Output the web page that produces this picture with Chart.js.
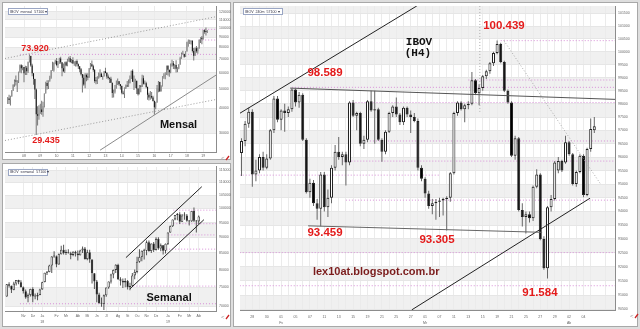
<!DOCTYPE html>
<html>
<head>
<meta charset="utf-8">
<script src="https://cdn.jsdelivr.net/npm/chart.js@4.4.1/dist/chart.umd.min.js"></script>
<style>
  body { margin:0; width:640px; height:329px; background:#dedede; position:relative; overflow:hidden; }
  .frame { position:absolute; background:#fff; border:1px solid #a8a8a8; box-sizing:border-box; }
  canvas { position:absolute; }
</style>
</head>
<body>
<div class="frame" style="left:2px;top:2px;width:229px;height:158px"></div>
<div class="frame" style="left:2px;top:163px;width:229px;height:164px"></div>
<div class="frame" style="left:233px;top:2px;width:405px;height:325px"></div>
<canvas id="mensal" width="231" height="161" style="left:0;top:0"></canvas>
<canvas id="semanal" width="231" height="168" style="left:0;top:161px"></canvas>
<canvas id="h4" width="407" height="329" style="left:233px;top:0"></canvas>
<script>
// IBOV mensal, milhares de pontos, jan/2007 .. abr/2019
const mensalYears = ['08','09','10','11','12','13','14','15','16','17','18','19'];
const mensalOpen = [
  44.5,44.6,43.9,45.8,49.0,52.3,54.4,54.2,54.6,60.5,65.3,63.0,
  63.9,59.5,63.5,61.0,67.9,72.6,65.0,59.5,55.7,49.5,37.3,36.6,
  37.6,39.3,38.2,40.9,47.3,53.2,51.5,54.8,56.5,61.5,61.5,67.0,
  68.6,65.4,66.5,70.4,67.5,63.0,60.9,67.5,65.1,69.4,70.7,67.7,
  69.3,66.6,67.4,68.6,66.1,64.6,62.4,58.8,56.5,52.3,58.3,56.9,
  56.8,63.1,66.1,64.5,61.8,54.5,54.4,56.1,57.1,59.2,57.1,57.5,
  61.0,59.8,57.4,56.4,55.9,53.5,47.5,48.2,50.0,52.3,54.3,52.5,
  51.5,47.6,47.1,50.4,51.6,51.2,53.2,55.8,61.3,54.1,54.6,54.7,
  50.0,46.9,51.6,51.2,56.2,52.8,53.1,50.9,46.6,45.1,45.9,45.1,
  43.4,40.4,42.8,50.1,53.9,48.5,51.5,57.3,57.9,58.4,64.9,61.9,
  60.2,64.7,66.7,65.0,65.4,62.7,62.9,65.9,70.8,74.3,74.3,72.0,
  76.4,84.9,85.4,85.4,86.1,76.8,72.8,79.2,76.7,79.3,87.4,89.5,
  87.9,97.4,95.6,95.4];
const mensalHigh = [
  45.4,46.6,46.0,49.0,52.3,55.4,58.1,55.0,60.5,65.8,66.1,65.2,
  64.0,64.8,64.7,68.0,73.9,72.8,66.4,59.6,56.0,50.0,40.8,41.3,
  42.0,43.5,43.0,47.3,54.0,54.9,54.8,57.8,61.8,68.0,67.5,69.4,
  71.0,68.5,71.1,71.9,67.6,66.6,68.0,68.4,70.3,72.0,72.5,70.0,
  71.6,68.4,68.7,69.6,66.6,64.6,63.2,59.1,58.7,59.6,59.4,59.5,
  63.3,66.9,68.9,65.6,62.6,57.0,57.5,60.1,62.3,60.0,57.9,61.0,
  63.5,60.4,58.7,56.6,57.2,53.5,49.4,52.0,54.8,56.1,54.5,52.7,
  51.7,48.7,50.6,52.4,54.5,55.5,58.1,61.3,62.3,58.0,56.0,54.7,
  50.1,52.0,51.8,58.6,58.0,54.8,54.0,51.2,47.6,48.6,48.1,46.0,
  43.6,43.0,52.0,54.5,54.0,51.9,57.6,59.5,60.3,64.9,65.3,62.0,
  66.6,69.5,68.6,66.0,69.1,63.7,66.1,71.9,75.6,77.1,74.4,76.5,
  85.5,87.6,87.3,86.9,87.0,79.4,80.0,81.4,79.9,87.7,90.0,91.2,
  97.7,98.6,100.4,97.5];
const mensalLow = [
  41.9,41.9,41.2,45.5,48.6,51.0,51.8,48.0,53.3,59.9,59.5,61.6,
  53.7,58.3,58.3,59.7,67.4,64.1,57.5,52.2,44.4,29.4,32.8,35.0,
  37.5,37.1,36.2,40.3,47.2,49.4,49.7,54.0,56.0,61.2,60.5,66.0,
  64.6,63.2,66.3,66.3,57.6,60.3,59.8,64.6,64.6,68.0,67.1,66.8,
  66.4,64.8,64.3,64.4,62.5,60.3,58.1,47.8,51.6,50.1,54.3,55.0,
  56.6,62.3,63.9,60.5,53.5,52.5,52.7,56.1,56.8,57.1,55.3,57.4,
  59.5,56.0,55.5,53.3,53.3,45.0,45.1,47.3,50.0,52.0,51.6,49.5,
  46.9,46.7,44.9,49.8,51.0,51.1,53.0,55.8,54.1,49.2,50.3,47.0,
  46.2,46.9,47.9,50.9,52.3,52.4,50.2,44.0,43.6,44.0,44.5,43.1,
  37.0,39.5,42.5,47.9,48.1,48.4,51.2,56.0,55.6,58.3,58.0,57.2,
  59.5,64.2,62.6,62.3,60.0,60.3,62.3,65.6,70.2,73.8,71.2,71.7,
  76.4,80.7,83.1,82.7,75.4,69.0,72.8,75.2,74.4,78.8,84.1,83.0,
  87.5,93.5,91.6,94.5];
const mensalClose = [
  44.6,43.9,45.8,49.0,52.3,54.4,54.2,54.6,60.5,65.3,63.0,63.9,
  59.5,63.5,61.0,67.9,72.6,65.0,59.5,55.7,49.5,37.3,36.6,37.6,
  39.3,38.2,40.9,47.3,53.2,51.5,54.8,56.5,61.5,61.5,67.0,68.6,
  65.4,66.5,70.4,67.5,63.0,60.9,67.5,65.1,69.4,70.7,67.7,69.3,
  66.6,67.4,68.6,66.1,64.6,62.4,58.8,56.5,52.3,58.3,56.9,56.8,
  63.1,66.1,64.5,61.8,54.5,54.4,56.1,57.1,59.2,57.1,57.5,61.0,
  59.8,57.4,56.4,55.9,53.5,47.5,48.2,50.0,52.3,54.3,52.5,51.5,
  47.6,47.1,50.4,51.6,51.2,53.2,55.8,61.3,54.1,54.6,54.7,50.0,
  46.9,51.6,51.2,56.2,52.8,53.1,50.9,46.6,45.1,45.9,45.1,43.4,
  40.4,42.8,50.1,53.9,48.5,51.5,57.3,57.9,58.4,64.9,61.9,60.2,
  64.7,66.7,65.0,65.4,62.7,62.9,65.9,70.8,74.3,74.3,72.0,76.4,
  84.9,85.4,85.4,86.1,76.8,72.8,79.2,76.7,79.3,87.4,89.5,87.9,
  97.4,95.6,95.4,97.1];
const mensalTicks = [30,40,50,60,70,80,90,100,110,120];
const mensalBands = [[30,40],[50,60],[70,80],[90,100],[110,120]];
const mensalTrends = [[-2,70.5,153.4,113.7],[-2,27.6,153.4,44.1],[68,24.7,153.4,58.3]];
const mensalLevels = [[73.9,9,153.4],[87.1,141,153.4],[98.4,141,153.4]];
const mensalNotes = [['73.920',20.1,78.97,'small'],['29.435',28.2,27.69,'small'],['Mensal',125.8,33.07,'name']];

// IBOV semanal, milhares de pontos, semana de 11/09/2017 .. 01/04/2019
const semanalMonths = ['Nv','Dz',['Ja','18'],'Fv','Mr','Ab','Mi','Jn','Jl','Ag','St','Ou','Nv','Dz',['Ja','19'],'Fv','Mr','Ab'];
const semanalMonthIdx = [7,11,15,21,25,30,34,38,42,47,51,55,59,63,68,73,77,81];
const semanalOpen = [
  72.5,75.8,75.4,74.3,76.0,77.0,76.4,75.0,73.9,72.2,
  72.9,74.5,72.5,72.5,72.9,74.4,76.4,79.1,79.3,81.2,
  83.9,84.0,81.5,84.6,86.0,85.0,85.1,84.9,84.4,85.4,
  84.8,84.3,85.8,86.4,83.1,85.2,83.0,78.9,76.6,73.0,
  70.8,70.6,72.8,74.9,76.6,78.6,79.9,81.4,77.2,76.8,
  76.3,76.7,75.0,75.4,78.3,79.3,82.3,83.8,85.7,85.7,
  88.4,85.6,88.0,85.9,89.5,86.4,87.4,85.7,87.9,91.6,
  93.7,96.1,97.7,97.9,95.3,97.5,97.5,95.6,95.4,99.1,
  95.6,95.4];
const semanalHigh = [
  75.9,76.4,75.5,76.5,77.0,77.1,76.9,75.2,74.4,73.3,
  74.6,75.0,73.3,73.5,74.6,76.5,79.1,79.6,81.4,84.0,
  85.5,84.2,84.8,87.3,87.6,86.0,86.2,85.4,85.5,85.7,
  85.8,86.0,87.0,86.9,86.0,86.0,83.1,79.0,77.0,73.5,
  72.2,73.0,74.9,76.6,78.8,80.0,81.6,81.7,77.8,77.4,
  77.5,77.0,76.2,79.0,80.0,83.8,86.2,85.8,86.3,89.0,
  89.0,88.0,88.5,90.0,90.0,88.0,87.5,88.0,91.6,94.0,
  96.1,97.7,98.4,98.6,98.0,98.6,98.0,95.9,99.1,100.4,
  95.9,97.5];
const semanalLow = [
  72.4,74.9,73.4,74.2,75.5,75.8,74.9,73.3,71.9,71.0,
  72.5,71.0,71.8,71.5,72.8,74.3,76.4,78.4,79.2,79.0,
  83.5,80.7,81.4,84.5,84.5,84.4,84.8,83.1,84.0,83.9,
  82.7,84.2,85.0,83.0,82.8,82.0,76.0,74.5,71.0,70.6,
  69.8,69.0,72.4,74.6,76.0,77.5,79.0,77.0,75.5,74.8,
  75.0,74.4,74.2,75.2,77.2,78.9,82.0,82.5,83.0,84.3,
  85.4,85.0,85.3,85.8,86.0,85.5,84.5,84.8,87.5,91.5,
  93.5,95.8,95.8,94.5,95.2,96.0,95.3,94.0,95.3,95.2,
  91.6,94.5];
const semanalClose = [
  75.8,75.4,74.3,76.0,77.0,76.4,75.0,73.9,72.2,72.9,
  74.5,72.5,72.5,72.9,74.4,76.4,79.1,79.3,81.2,83.9,
  84.0,81.5,84.6,86.0,85.0,85.1,84.9,84.4,85.4,84.8,
  84.3,85.8,86.4,83.1,85.2,83.0,78.9,76.6,73.0,70.8,
  70.6,72.8,74.9,76.6,78.6,79.9,81.4,77.2,76.8,76.3,
  76.7,75.0,75.4,78.3,79.3,82.3,83.8,85.7,85.7,88.4,
  85.6,88.0,85.9,89.5,86.4,87.4,85.7,87.9,91.6,93.7,
  96.1,97.7,97.9,95.3,97.5,97.5,95.6,95.4,99.1,95.6,
  95.4,97.1];
const semanalTicks = [70,75,80,85,90,95,100,105,110,115];
const semanalBands = [[70,75],[80,85],[90,95],[100,105],[110,115]];
const semanalTrends = [[50.3,83.56,82.3,108.3],[52.0,74.55,83.2,96.0]];
const semanalLevels = [[99.4,70.3,88.3],[94.6,70.3,88.3],[90.8,68.2,88.3],[86.2,66,88.3],[75.3,53.4,88.3],[70.6,5.6,88.3]];
const semanalNotes = [['Semanal',68.5,72.23,'name']];

// IBOV 240 minutos, pontos, 23/01/2019 .. 05/04/2019 (duas barras por pregao)
const h4Days = ['28','30',['01','Fv'],'05','07','11','13','15','19','21','25','27',['01','Mr'],'07','11','13','15','19','21','25','27','29',['02','Ab'],'04'];
const h4Open = [
  96150,96600,97250,97700,95350,95500,96000,95600,95950,97000,
  98200,97400,97750,97650,97800,98550,98050,98350,96650,94700,
  95050,94300,94100,95350,94150,94500,95600,96200,96000,96100,
  95800,98050,97550,97650,96500,96650,98100,97750,97800,96650,
  96200,96950,97650,97900,97600,97300,97850,97600,97500,97350,
  95600,95200,94650,94200,94300,94350,94400,94450,94500,95400,
  97650,98050,97800,97950,98000,98900,98400,98600,99050,99250,
  99550,99950,100300,99600,98500,98050,96050,96700,94050,93800,
  93900,93750,94900,95350,93000,91950,94150,94450,95500,95850,
  95800,96550,96100,95000,95450,96050,94600,96300,97000];
const h4High = [
  96700,97350,97850,97800,95900,96100,96200,96100,97050,98300,
  98300,97800,98000,97900,98589,98580,98450,98400,96700,95200,
  95150,94450,95450,95450,94800,95700,96450,96750,96200,96200,
  98100,98150,97700,97700,96800,98150,98500,98500,97850,96700,
  97000,97700,97950,98240,97650,97900,97900,97750,97650,97450,
  95700,95250,94750,94450,94450,94500,94500,94550,95450,97700,
  98100,98100,98000,98100,99220,98950,98750,99100,99300,99600,
  100000,100439,100350,99650,98550,98100,96800,96750,94300,94000,
  94000,94950,95550,95400,93100,94200,94600,95850,96000,95900,
  96800,96600,96150,95500,96100,96100,96350,97450,97500];
const h4Low = [
  95300,96400,97100,94900,95100,95400,95500,95550,95900,96900,
  97300,97000,96950,97500,97700,97900,97850,96600,94650,94500,
  94200,93700,93459,94000,93800,94300,95500,95900,95700,94950,
  95700,97500,97000,96400,96300,96550,97700,96500,96600,95830,
  96100,96900,97500,97500,97200,97200,97500,96900,97300,95500,
  95100,94500,94100,93900,93700,93800,93850,93305,94350,95350,
  97550,97750,97300,97800,97950,98350,97950,98500,98950,99150,
  99450,99900,99550,98450,98000,96000,95900,94000,93450,93200,
  93600,93650,94850,92950,91900,91584,94000,94400,95400,95450,
  95750,96050,94950,94900,95400,94520,94550,96200,96900];
const h4Close = [
  96600,97250,97700,95350,95500,96000,95600,95950,97000,98200,
  97400,97750,97650,97800,98550,98050,98350,96650,94700,95050,
  94300,94100,95350,94150,94500,95600,96200,96000,96100,95800,
  98050,97550,97650,96500,96650,98100,97750,97800,96650,96200,
  96950,97650,97900,97600,97300,97850,97600,97500,97350,95600,
  95200,94650,94200,94300,94350,94400,94450,94500,95400,97650,
  98050,97800,97950,98000,98900,98400,98600,99050,99250,99550,
  99950,100300,99600,98500,98050,96050,96700,94050,93800,93900,
  93750,94900,95350,93000,91950,94150,94450,95800,95850,95500,
  96550,96100,95000,95450,96050,94600,96300,97050,97150];
const h4Ticks = [90500,91000,91500,92000,92500,93000,93500,94000,94500,95000,95500,96000,
  96500,97000,97500,98000,98500,99000,99500,100000,100500,101000,101500];
const h4Bands = [[90500,91000],[91500,92000],[92500,93000],[93500,94000],[94500,95000],[95500,96000],
  [96500,97000],[97500,98000],[98500,99000],[99500,100000],[100500,101000],[101500,102000]];
const h4Trends = [[-0.5,97640,48.7,101790],[13.5,98600,103.8,98170],[18.5,93475,83.5,93240],
  [47.3,90480,96.8,94480],[72.9,100430,99.9,94970],[66.2,101790,66.2,97700]];
const h4Levels = [[100430,72,103.8],[98910,63,103.8],[98630,14,103.8],[98050,30,103.8],[96600,34,103.8],
  [95850,28,103.8],[95330,-0.5,55],[94410,29,103.8],[92510,-0.5,103.8],[91330,-0.5,103.8]];
const h4Notes = [['98.589',23.2,99180,'red'],['93.459',23.2,93215,'red'],['93.305',54.3,92980,'red'],
  ['100.439',72.9,101021,'red'],['91.584',82.9,91072,'red'],['IBOV',49.3,100377,'title'],['(H4)',49.0,99950,'title'],
  ['lex10at.blogspot.com.br',37.4,91816,'site']];

const noteFont = {
  red:'bold 11.5px "Liberation Sans"', small:'bold 9px "Liberation Sans"',
  title:'bold 11px "Liberation Mono"', name:'bold 11px "Liberation Sans"', site:'bold 11px "Liberation Sans"'
};
const noteColor = {red:'#e41b1b', small:'#e41b1b', title:'#111', name:'#111', site:'#7b1c1c'};
const tickFont = {family:'Liberation Sans', size:3.5, lineHeight:1.7};

function candlePanel(id, p) {
  const bars = p.close.map((_, i) => i);
  const up = i => p.close[i] >= p.open[i];
  const datasets = [];
  p.trends.forEach((t, k) => datasets.push({
    type:'line', data:[{x:t[0], y:t[1]}, {x:t[2], y:t[3]}],
    borderColor:p.trendColor[k], borderWidth:1, borderDash:p.trendDash[k], pointRadius:0
  }));
  datasets.push({
    type:'bar', data:bars.map(i => ({x:i, y:[p.open[i], p.close[i]]})),
    backgroundColor:c => up(c.dataIndex) ? p.upFill : p.downFill,
    borderColor:p.edge, borderWidth:p.edgeW, borderSkipped:false,
    barThickness:p.bodyW, minBarLength:1, grouped:false, inflateAmount:0
  });
  datasets.push({
    type:'bar', data:bars.map(i => ({x:i, y:[p.low[i], p.high[i]]})),
    backgroundColor:p.wick, barThickness:1, grouped:false, inflateAmount:0
  });
  p.levels.forEach(l => datasets.push({
    type:'line', data:[{x:l[1], y:l[0]}, {x:l[2], y:l[0]}],
    borderColor:'#d890d8', borderWidth:1, borderDash:[1, 2], pointRadius:0
  }));

  const deco = {
    id:'deco',
    beforeDraw(chart) {
      const {ctx, chartArea:a, scales:{y}} = chart;
      ctx.save();
      ctx.fillStyle = '#f0f0f0';
      p.bands.forEach(([lo, hi]) => {
        const t = Math.max(y.getPixelForValue(hi), a.top);
        const b = Math.min(y.getPixelForValue(lo), a.bottom);
        if (b > t) ctx.fillRect(a.left, t, a.right - a.left, b - t);
      });
      ctx.restore();
    },
    afterDatasetsDraw(chart) {
      const {ctx, chartArea:a, scales:{x, y}} = chart;
      ctx.save();
      ctx.textAlign = 'center';
      ctx.textBaseline = 'middle';
      p.notes.forEach(([text, nx, ny, kind]) => {
        ctx.font = noteFont[kind];
        ctx.fillStyle = noteColor[kind];
        ctx.fillText(text, x.getPixelForValue(nx), y.getPixelForValue(ny));
      });
      // caixa de legenda
      ctx.fillStyle = '#fff';
      ctx.strokeStyle = '#9aa6c4';
      ctx.lineWidth = 1;
      ctx.fillRect(a.left + 3, a.top + 2, 39, 6);
      ctx.strokeRect(a.left + 3.5, a.top + 2.5, 39, 6);
      ctx.fillStyle = '#334';
      ctx.textAlign = 'left';
      ctx.font = '3.6px "Liberation Sans"';
      ctx.fillText(p.legend, a.left + 5, a.top + 5.5);
      // icones do canto
      ctx.fillStyle = '#999';
      ctx.font = '6px "Liberation Sans"';
      ctx.fillText('<', chart.width - 10, a.bottom + 6);
      ctx.strokeStyle = '#c22';
      ctx.lineWidth = 1.3;
      ctx.beginPath();
      ctx.moveTo(chart.width - 5, a.bottom + 8);
      ctx.lineTo(chart.width - 2, a.bottom + 4);
      ctx.stroke();
      ctx.restore();
    }
  };

  return new Chart(document.getElementById(id), {
    type:'bar',
    data:{datasets},
    plugins:[deco],
    options:{
      animation:false, responsive:false, events:[],
      layout:{padding:{left:p.padL, top:p.padT, right:0, bottom:0}},
      plugins:{legend:{display:false}, tooltip:{enabled:false}},
      scales:{
        x:{
          type:'linear', min:p.xMin, max:p.xMax, offset:false,
          grid:{color:'#ebebeb', offset:false, drawTicks:false},
          border:{color:'#8c8c8c'},
          ticks:{autoSkip:false, maxRotation:0, padding:p.xPad, color:'#666', font:tickFont, callback:p.xLabel},
          afterBuildTicks:s => { s.ticks = p.xTicks.map(v => ({value:v})); },
          afterFit:s => { s.height = p.xAxisH; }
        },
        y:{
          type:'logarithmic', position:'right', min:p.yMin, max:p.yMax,
          grid:{color:'#e6e6e6', drawTicks:false},
          border:{color:'#8c8c8c'},
          ticks:{padding:3, color:'#666', font:tickFont, callback:v => String(Math.round(v * p.unit))},
          afterBuildTicks:s => { s.ticks = p.yTicks.map(v => ({value:v})); },
          afterFit:s => { s.width = p.yAxisW; }
        }
      }
    }
  });
}

candlePanel('mensal', {
  open:mensalOpen, high:mensalHigh, low:mensalLow, close:mensalClose,
  xMin:-2, xMax:153.4, yMin:24.2, yMax:128.5, unit:1000,
  yTicks:mensalTicks, xTicks:mensalYears.map((_, k) => 12 * (k + 1)),
  xLabel:v => mensalYears[v / 12 - 1],
  bands:mensalBands, trends:mensalTrends, levels:mensalLevels, notes:mensalNotes,
  trendColor:['#9a9a9a','#9a9a9a','#8a8a8a'], trendDash:[[1,2],[1,2],[]],
  upFill:'#8f8f8f', downFill:'#111', edge:'#555', edgeW:0, bodyW:1, wick:'#777',
  padL:5, padT:6, xAxisH:9, yAxisW:15, xPad:1, legend:'IBOV  mensal  57100 \u25be'
});

candlePanel('semanal', {
  open:semanalOpen, high:semanalHigh, low:semanalLow, close:semanalClose,
  xMin:-0.72, xMax:88.3, yMin:68.75, yMax:116.4, unit:1000,
  yTicks:semanalTicks, xTicks:semanalMonthIdx,
  xLabel:v => semanalMonths[semanalMonthIdx.indexOf(v)],
  bands:semanalBands, trends:semanalTrends, levels:semanalLevels, notes:semanalNotes,
  trendColor:['#222','#222'], trendDash:[[],[]],
  upFill:'#fff', downFill:'#000', edge:'#333', edgeW:0.8, bodyW:2.4, wick:'#555',
  padL:5, padT:4, xAxisH:18, yAxisW:15, xPad:2, legend:'IBOV  semanal  57100 \u25be'
});

candlePanel('h4', {
  open:h4Open, high:h4High, low:h4Low, close:h4Close,
  xMin:-0.42, xMax:103.75, yMin:90475, yMax:101788, unit:1,
  yTicks:h4Ticks, xTicks:Array.from({length:52}, (_, k) => 2 * k + 1),
  xLabel:v => ((v - 3) % 4 === 0 && v >= 3) ? h4Days[(v - 3) / 4] : '',
  bands:h4Bands, trends:h4Trends, levels:h4Levels, notes:h4Notes,
  trendColor:['#222','#555','#666','#222','#aaa','#aaa'], trendDash:[[],[],[],[],[1,2],[1,2]],
  upFill:'#fff', downFill:'#000', edge:'#222', edgeW:1, bodyW:3, wick:'#666',
  padL:7, padT:6, xAxisH:19, yAxisW:25, xPad:4, legend:'IBOV  240m  57100 \u25be'
});
</script>
</body>
</html>
